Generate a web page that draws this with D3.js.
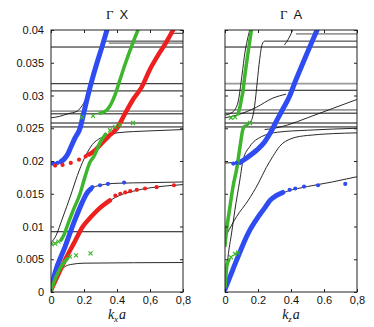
<!DOCTYPE html>
<html>
<head>
<meta charset="utf-8">
<script src="https://cdn.jsdelivr.net/npm/d3@7"></script>
<style>
  body { margin: 0; background: #fff; }
  svg { display: block; }
</style>
</head>
<body>
<div id="chart"></div>
<script>
// axis ticks
const yTicks = [0, 0.005, 0.01, 0.015, 0.02, 0.025, 0.03, 0.035, 0.04]
const xTicks = [0, 0.2, 0.4, 0.6, 0.8]
const gxTickLabels = ['0', '0.2', '0.4', '0,6', '0,8']
const gaTickLabels = ['0', '0.2', '0.4', '0.6', '0,8']

// ---- Gamma X panel: [k a, frequency] ----
const gxBlueLowLine = [[0, 0.0004], [0.024, 0.0029], [0.085, 0.0069], [0.145, 0.011], [0.188, 0.0136], [0.218, 0.0151], [0.24, 0.0157]]
const gxBlueLowDots = [[0.25, 0.016], [0.297, 0.0163], [0.345, 0.0165], [0.443, 0.0167]]
const gxBlueUpDots = [[0.005, 0.0196], [0.02, 0.0196], [0.04, 0.0197]]
const gxBlueUpLine = [[0.06, 0.0199], [0.08, 0.0203], [0.1, 0.021], [0.12, 0.0221], [0.145, 0.0235], [0.176, 0.025], [0.2, 0.0275], [0.224, 0.03], [0.25, 0.0325], [0.279, 0.035], [0.31, 0.0375], [0.339, 0.04]]

const gxRedLowLine = [[0, 0.0003], [0.03, 0.0019], [0.085, 0.0049], [0.14, 0.0075], [0.19, 0.0099], [0.24, 0.0114], [0.29, 0.0127], [0.357, 0.014]]
const gxRedLowDots = [[0.39, 0.0147], [0.42, 0.015], [0.45, 0.0152], [0.48, 0.0154], [0.52, 0.0156], [0.57, 0.0158], [0.64, 0.016], [0.745, 0.0163]]
const gxRedUpDots = [[0.025, 0.0193], [0.07, 0.0194], [0.12, 0.0197], [0.17, 0.0202], [0.21, 0.0207]]
const gxRedUpLine = [[0.23, 0.021], [0.26, 0.0215], [0.3, 0.0225], [0.35, 0.0238], [0.4, 0.025], [0.45, 0.0273], [0.5, 0.0295], [0.55, 0.0313], [0.6, 0.034], [0.65, 0.0362], [0.7, 0.0382], [0.74, 0.04]]

const gxGreenLowLine = [[0, 0.0003], [0.036, 0.0026], [0.067, 0.0041], [0.1, 0.0051]]
const gxGreenLowX = [[0.115, 0.0054], [0.152, 0.0056], [0.24, 0.0059]]
const gxGreenMidX = [[0.005, 0.0073], [0.025, 0.0074], [0.045, 0.0077], [0.358, 0.0247], [0.388, 0.0252], [0.418, 0.0255], [0.497, 0.0258]]
const gxGreenMidLine = [[0.06, 0.0079], [0.08, 0.0088], [0.097, 0.01], [0.135, 0.0125], [0.176, 0.015], [0.205, 0.0175], [0.236, 0.0198], [0.26, 0.0207], [0.297, 0.0228], [0.33, 0.0241]]
const gxGreenUpX = [[0.188, 0.0267], [0.255, 0.0269]]
const gxGreenUpLine = [[0.297, 0.0273], [0.339, 0.0278], [0.364, 0.0287], [0.388, 0.0301], [0.418, 0.0324], [0.448, 0.0347], [0.491, 0.0377], [0.527, 0.04]]

const gxTheory = [
  [[0, 0], [0.02, 0.0016], [0.05, 0.003], [0.08, 0.0038], [0.12, 0.0042], [0.2, 0.0044], [0.8, 0.0045]],
  [[0, 0.0075], [0.03, 0.0086], [0.07, 0.0113], [0.12, 0.0148], [0.16, 0.0178], [0.2, 0.0203], [0.22, 0.0213], [0.25, 0.0225], [0.3, 0.0235], [0.35, 0.024], [0.4, 0.0243], [0.6, 0.0246], [0.8, 0.0248]],
  [[0.22, 0.015], [0.26, 0.016], [0.3, 0.0163], [0.4, 0.0166], [0.6, 0.0167], [0.8, 0.0168]],
  [[0.3, 0.013], [0.36, 0.014], [0.42, 0.0148], [0.5, 0.0154], [0.6, 0.0159], [0.7, 0.0162], [0.8, 0.0164]],
  [[0, 0.0266], [0.05, 0.0268], [0.1, 0.0272], [0.158, 0.0276], [0.19, 0.0285], [0.218, 0.0298], [0.23, 0.0304]],
  [[0.3, 0.0368], [0.32, 0.0379], [0.34, 0.0383], [0.8, 0.0383]],
  [[0.7, 0.0386], [0.72, 0.0392], [0.75, 0.0395], [0.8, 0.0395]]
]
const gxFlatBlack = [0.0092, 0.0252, 0.0258, 0.0272, 0.0307, 0.0318, 0.0374]
const gxFlatGray = [0.0276]
const gxGraySegs = [[[0.35, 0.038], [0.8, 0.038]]]

// ---- Gamma A panel ----
const gaBlueLowLine = [[0, 0.0004], [0.03, 0.0023], [0.071, 0.0049], [0.141, 0.009], [0.202, 0.0115], [0.24, 0.0128], [0.273, 0.014], [0.31, 0.0147], [0.35, 0.0152]]
const gaBlueLowDots = [[0.392, 0.0156], [0.426, 0.0158], [0.479, 0.0161], [0.564, 0.0163], [0.729, 0.0165]]
const gaBlueUpDots = [[0.05, 0.0196], [0.07, 0.0197]]
const gaBlueUpLine = [[0.091, 0.0198], [0.133, 0.0205], [0.194, 0.0217], [0.24, 0.0229], [0.275, 0.0243], [0.31, 0.026], [0.35, 0.0279], [0.39, 0.0298], [0.43, 0.0324], [0.473, 0.035], [0.515, 0.0375], [0.558, 0.04]]

const gaGreenLowLine = [[0, 0.0008], [0.006, 0.0026], [0.012, 0.0041], [0.024, 0.0049]]
const gaGreenLowX = [[0.036, 0.0053], [0.061, 0.0058], [0.079, 0.006]]
const gaGreenMidLine = [[0, 0.0071], [0.012, 0.0099], [0.03, 0.013], [0.048, 0.016], [0.073, 0.0191], [0.085, 0.0212], [0.097, 0.0232], [0.106, 0.0246], [0.118, 0.0253]]
const gaGreenMidX = [[0.13, 0.0256], [0.152, 0.0258]]
const gaGreenUpX = [[0.036, 0.0266], [0.061, 0.0267]]
const gaGreenUpLine = [[0.079, 0.0272], [0.09, 0.0282], [0.1, 0.0295], [0.108, 0.0305], [0.12, 0.033], [0.131, 0.035], [0.145, 0.0375], [0.16, 0.04]]

const gaTheory = [
  [[0, 0.0005], [0.018, 0.0053], [0.04, 0.009], [0.06, 0.0125], [0.09, 0.0171], [0.11, 0.0202], [0.15, 0.0222], [0.22, 0.0237], [0.32, 0.0244], [0.5, 0.0247], [0.8, 0.025]],
  [[0.01, 0.0088], [0.07, 0.0115], [0.141, 0.014], [0.2, 0.0165], [0.25, 0.019], [0.29, 0.0207], [0.33, 0.0222], [0.4, 0.0234], [0.5, 0.0239], [0.8, 0.0243]],
  [[0.32, 0.0148], [0.38, 0.0154], [0.5, 0.0161], [0.65, 0.0168], [0.8, 0.0176]],
  [[0.24, 0.0248], [0.3, 0.025], [0.38, 0.0255], [0.5, 0.0266], [0.65, 0.028], [0.8, 0.0294]],
  [[0, 0.0197], [0.09, 0.0198]],
  [[0, 0.0266], [0.07, 0.027], [0.19, 0.0282], [0.29, 0.0296], [0.37, 0.0302]],
  [[0, 0.027], [0.048, 0.0275], [0.079, 0.029], [0.103, 0.0331], [0.121, 0.0366], [0.14, 0.039], [0.15, 0.04]],
  [[0.12, 0.0253], [0.16, 0.0262], [0.18, 0.0285], [0.195, 0.032], [0.21, 0.0355], [0.225, 0.0378], [0.24, 0.0383], [0.8, 0.0383]],
  [[0.36, 0.0377], [0.39, 0.0389], [0.41, 0.04]]
]
const gaFlatBlack = [0.0252, 0.0258, 0.0273, 0.0308, 0.0374]
const gaFlatGray = [0.0278, 0.0318]
const gaGraySegs = [[[0.43, 0.0394], [0.8, 0.0394]]]

const BLUE = '#2f4cf2'
const RED = '#ee1f1f'
const GREEN = '#3db52c'

const panels = [
  {
    range: [51, 183], title: 'X', sub: 'x', showY: true, labels: gxTickLabels,
    theory: gxTheory, flatBlack: gxFlatBlack, flatGray: gxFlatGray, graySegs: gxGraySegs,
    lines: [
      { data: gxBlueLowLine, color: BLUE, w: 5 }, { data: gxBlueUpLine, color: BLUE, w: 5 },
      { data: gxRedLowLine, color: RED, w: 4.5 }, { data: gxRedUpLine, color: RED, w: 4.5 },
      { data: gxGreenLowLine, color: GREEN, w: 3.5 }, { data: gxGreenMidLine, color: GREEN, w: 3.5 },
      { data: gxGreenUpLine, color: GREEN, w: 3.5 }
    ],
    dots: [
      { data: gxBlueLowDots.concat(gxBlueUpDots), color: BLUE },
      { data: gxRedLowDots.concat(gxRedUpDots), color: RED }
    ],
    crosses: gxGreenLowX.concat(gxGreenMidX, gxGreenUpX)
  },
  {
    range: [225, 357], title: 'A', sub: 'z', showY: false, labels: gaTickLabels,
    theory: gaTheory, flatBlack: gaFlatBlack, flatGray: gaFlatGray, graySegs: gaGraySegs,
    lines: [
      { data: gaBlueLowLine, color: BLUE, w: 5 }, { data: gaBlueUpLine, color: BLUE, w: 5 },
      { data: gaGreenLowLine, color: GREEN, w: 3.5 }, { data: gaGreenMidLine, color: GREEN, w: 3.5 },
      { data: gaGreenUpLine, color: GREEN, w: 3.5 }
    ],
    dots: [{ data: gaBlueLowDots.concat(gaBlueUpDots), color: BLUE }],
    crosses: gaGreenLowX.concat(gaGreenMidX, gaGreenUpX)
  }
]

const width = 374
const height = 327
const svg = d3.select('#chart').append('svg').attr('width', width).attr('height', height)
const y = d3.scaleLinear().domain([0, 0.04]).range([292, 30])
const SANS = 'Liberation Sans, Arial, sans-serif'
const SERIF = 'Liberation Serif, Times New Roman, serif'

const drawPanel = (p, i) => {
  const x = d3.scaleLinear().domain([0, 0.8]).range(p.range)
  const line = d3.line().x((d) => x(d[0])).y((d) => y(d[1])).curve(d3.curveMonotoneX)
  const clipId = 'clip' + i

  svg.append('clipPath').attr('id', clipId)
    .append('rect')
    .attr('x', p.range[0]).attr('y', y(0.04))
    .attr('width', p.range[1] - p.range[0]).attr('height', y(0) - y(0.04))

  const plot = svg.append('g').attr('clip-path', `url(#${clipId})`)

  // flat bands
  plot.selectAll('.fg').data(p.flatGray).join('line')
    .attr('x1', x(0)).attr('x2', x(0.8)).attr('y1', (d) => y(d)).attr('y2', (d) => y(d))
    .attr('stroke', '#9a9a9a').attr('stroke-width', 1.8)
  plot.selectAll('.gs').data(p.graySegs).join('path')
    .attr('d', line).attr('fill', 'none').attr('stroke', '#9a9a9a').attr('stroke-width', 1.8)
  plot.selectAll('.fb').data(p.flatBlack).join('line')
    .attr('x1', x(0)).attr('x2', x(0.8)).attr('y1', (d) => y(d)).attr('y2', (d) => y(d))
    .attr('stroke', '#111').attr('stroke-width', 1)

  // model curves
  plot.selectAll('.th').data(p.theory).join('path')
    .attr('d', line).attr('fill', 'none').attr('stroke', '#111').attr('stroke-width', 0.9)

  // measured branches
  plot.selectAll('.ln').data(p.lines).join('path')
    .attr('d', (d) => line(d.data))
    .attr('fill', 'none')
    .attr('stroke', (d) => d.color)
    .attr('stroke-width', (d) => d.w)
    .attr('stroke-linecap', 'round')
    .attr('stroke-linejoin', 'round')

  p.dots.forEach((s) => {
    plot.append('g').selectAll('circle').data(s.data).join('circle')
      .attr('cx', (d) => x(d[0])).attr('cy', (d) => y(d[1]))
      .attr('r', 2.1).attr('fill', s.color)
  })

  plot.append('g').selectAll('path').data(p.crosses).join('path')
    .attr('transform', (d) => `translate(${x(d[0])},${y(d[1])})`)
    .attr('d', 'M-2,-2L2,2M-2,2L2,-2')
    .attr('stroke', GREEN).attr('stroke-width', 1.2)

  // axes with inward ticks
  const fmt = (d) => (d === 0 ? '0' : d3.format('.3~f')(d))
  const left = svg.append('g').attr('transform', `translate(${p.range[0]},0)`)
    .call(d3.axisLeft(y).tickValues(yTicks).tickSize(-3).tickPadding(7).tickFormat(fmt))
  if (!p.showY) left.selectAll('text').remove()
  const right = svg.append('g').attr('transform', `translate(${p.range[1]},0)`)
    .call(d3.axisRight(y).tickValues(yTicks).tickSize(-3))
  right.selectAll('text').remove()
  const bottom = svg.append('g').attr('transform', `translate(0,${y(0)})`)
    .call(d3.axisBottom(x).tickValues(xTicks).tickSize(-3).tickPadding(4).tickFormat((d, j) => p.labels[j]))
  const top = svg.append('g').attr('transform', `translate(0,${y(0.04)})`)
    .call(d3.axisTop(x).tickValues(xTicks).tickSize(-3))
  top.selectAll('text').remove()

  ;[left, right, bottom, top].forEach((a) => {
    a.select('.domain').remove()
    a.selectAll('line').attr('stroke', '#222')
    a.selectAll('text').attr('font-family', SANS).attr('font-size', 11).attr('fill', '#111')
  })

  svg.append('rect')
    .attr('x', p.range[0]).attr('y', y(0.04))
    .attr('width', p.range[1] - p.range[0]).attr('height', y(0) - y(0.04))
    .attr('fill', 'none').attr('stroke', '#222').attr('stroke-width', 1)

  // title
  const cx = (p.range[0] + p.range[1]) / 2
  const t = svg.append('text').attr('x', cx).attr('y', 19).attr('text-anchor', 'middle')
    .attr('font-size', 13).attr('fill', '#111')
  t.append('tspan').attr('font-family', SERIF).text('Γ')
  t.append('tspan').attr('font-family', SANS).attr('dx', 6).text(p.title)

  // x label
  const xl = svg.append('text').attr('x', cx).attr('y', 319).attr('text-anchor', 'middle')
    .attr('font-family', SERIF).attr('font-style', 'italic').attr('font-size', 14).attr('fill', '#111')
  xl.append('tspan').text('k')
  xl.append('tspan').attr('font-size', 9).attr('dy', 3).text(p.sub)
  xl.append('tspan').attr('dy', -3).attr('dx', 1).text('a')
}

panels.forEach(drawPanel)
</script>
</body>
</html>
